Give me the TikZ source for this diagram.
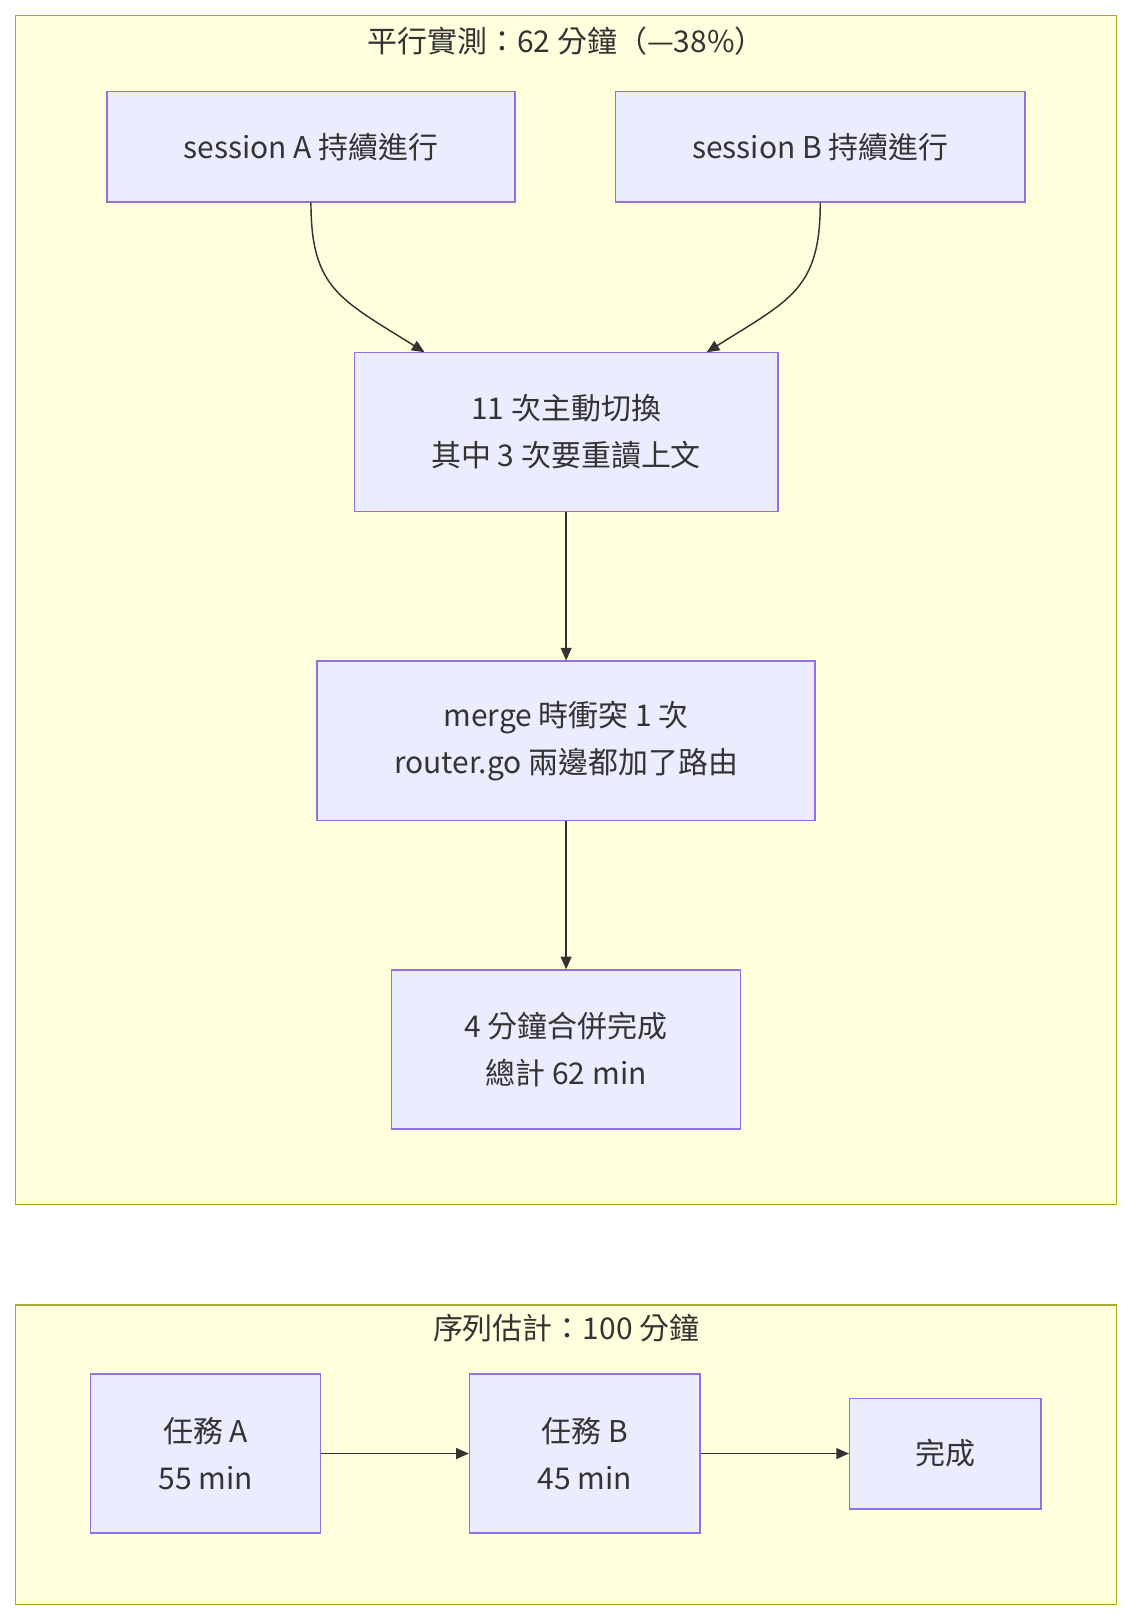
\documentclass[tikz,border=0pt]{standalone}
\usepackage{fontspec}
\setmainfont{Noto Sans CJK TC}
\usetikzlibrary{arrows.meta}
\definecolor{clfill}{HTML}{FFFFDE}
\definecolor{cldraw}{HTML}{AAAA33}
\definecolor{ndfill}{HTML}{ECECFF}
\definecolor{nddraw}{HTML}{9370DB}
\definecolor{edge}{HTML}{333333}
\tikzset{
  box/.style={draw=nddraw,fill=ndfill,line width=0.8pt,align=center,inner sep=0pt,
    font=\fontsize{16.5}{26}\selectfont,text=edge},
  cluster/.style={draw=cldraw,fill=clfill,line width=0.8pt},
  ctitle/.style={font=\fontsize{16.5}{20}\selectfont,text=edge},
  flow/.style={-{Triangle[length=7pt,width=6pt]},draw=edge,line width=0.8pt}
}
\begin{document}
\begin{tikzpicture}[x=0.02cm,y=-0.02cm]
	\useasboundingbox (0,0) rectangle (1100,1572);

	% parallel run
	\draw [cluster] (15,15) rectangle (1081,1166);
	\node [ctitle] (t1) at (548,40) {平行實測：62 分鐘（—38\%）};

	\node [box,minimum width=7.9cm,minimum height=2.14cm] (sA) at (301,142) {session A 持續進行};
	\node [box,minimum width=7.92cm,minimum height=2.14cm] (sB) at (794,142) {session B 持續進行};
	\node [box,minimum width=8.2cm,minimum height=3.08cm] (sw) at (548,418) {11 次主動切換\\其中 3 次要重讀上文};
	\node [box,minimum width=9.64cm,minimum height=3.08cm] (mg) at (548,717) {merge 時衝突 1 次\\router.go 兩邊都加了路由};
	\node [box,minimum width=6.76cm,minimum height=3.08cm] (dn) at (548,1016) {4 分鐘合併完成\\總計 62 min};

	\coordinate (inA) at (411,341);
	\coordinate (inB) at (684,341);
	\draw [flow] (sA.south) .. controls (301,280) and (330,290) .. (inA);
	\draw [flow] (sB.south) .. controls (794,280) and (765,290) .. (inB);
	\draw [flow] (sw) -- (mg);
	\draw [flow] (mg) -- (dn);

	% sequential estimate
	\draw [cluster] (15,1263) rectangle (1081,1553);
	\node [ctitle] (t2) at (548,1286) {序列估計：100 分鐘};

	\node [box,minimum width=4.46cm,minimum height=3.08cm] (tA) at (199,1407) {任務 A\\55 min};
	\node [box,minimum width=4.46cm,minimum height=3.08cm] (tB) at (566,1407) {任務 B\\45 min};
	\node [box,minimum width=3.7cm,minimum height=2.14cm] (fin) at (915,1407) {完成};

	\draw [flow] (tA) -- (tB);
	\draw [flow] (tB) -- (fin);
\end{tikzpicture}
\end{document}
